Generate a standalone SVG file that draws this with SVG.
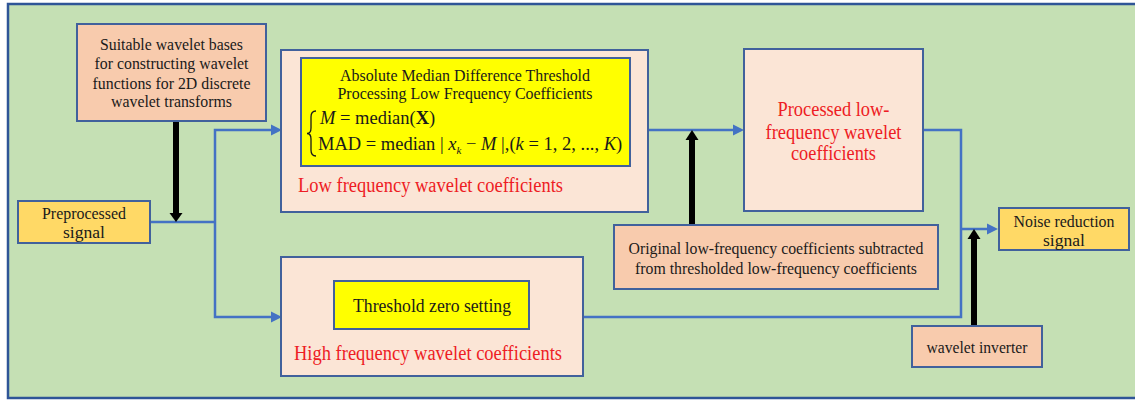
<svg xmlns="http://www.w3.org/2000/svg" width="1135" height="400" viewBox="0 0 1135 400">
  <style>
    text { font-family: "Liberation Serif", "Times New Roman", serif; fill: #1a1a1a; }
    .box { stroke: #41619c; stroke-width: 2; }
    .salmon { fill: #f8cbad; }
    .pale { fill: #fbe5d6; }
    .yellow { fill: #ffff00; }
    .gold { fill: #ffd966; }
    .t16 { font-size: 17.5px; text-anchor: middle; }
    .red { fill: #ee1c24; font-size: 20.5px; }
    .math { font-size: 18.5px; }
    .it { font-style: italic; }
    .wire { fill: none; stroke: #4472c4; stroke-width: 2.5; }
    .arrowhead { fill: #4472c4; }
    .push { fill: #000; }
  </style>

  <!-- background panel -->
  <rect x="8" y="4" width="1130" height="394" fill="#c5e0b4" stroke="#2f5597" stroke-width="2.5"/>

  <!-- connectors -->
  <g id="connectors">
    <!-- input split to low / high branches -->
    <polyline class="wire" points="150,222 215,222"/>
    <polyline class="wire" points="273,130 215,130 215,317 273,317"/>
    <polygon class="arrowhead" points="282,130 271,124.5 271,135.5"/>
    <polygon class="arrowhead" points="282,317 271,311.5 271,322.5"/>
    <!-- low branch to processed coefficients -->
    <polyline class="wire" points="648,130 735,130"/>
    <polygon class="arrowhead" points="744,130 733,124.5 733,135.5"/>
    <!-- merge to output -->
    <polyline class="wire" points="923,130 961,130 961,317 583,317"/>
    <polyline class="wire" points="961,229 989,229"/>
    <polygon class="arrowhead" points="998,229 987,223.5 987,234.5"/>
    <!-- thick black feeds -->
    <rect class="push" x="173" y="121" width="6" height="93"/>
    <polygon class="push" points="169.5,213 182.5,213 176,222"/>
    <rect class="push" x="689" y="139" width="6" height="86"/>
    <polygon class="push" points="685.5,140 698.5,140 692,130"/>
    <rect class="push" x="971" y="238" width="6" height="88"/>
    <polygon class="push" points="967.5,239 980.5,239 974,229"/>
  </g>

  <!-- wavelet basis selection -->
  <g id="wavelet-bases">
    <rect class="box salmon" x="77" y="24" width="189" height="97"/>
    <text class="t16" x="171.5" y="50" textLength="143" lengthAdjust="spacingAndGlyphs">Suitable wavelet bases</text>
    <text class="t16" x="171.5" y="69" textLength="154" lengthAdjust="spacingAndGlyphs">for constructing wavelet</text>
    <text class="t16" x="171.5" y="88.5" textLength="158" lengthAdjust="spacingAndGlyphs">functions for 2D discrete</text>
    <text class="t16" x="171.5" y="107" textLength="121" lengthAdjust="spacingAndGlyphs">wavelet transforms</text>
  </g>

  <!-- input signal -->
  <g id="preprocessed">
    <rect class="box gold" x="18" y="201" width="132" height="42"/>
    <text class="t16" x="84" y="219" textLength="84" lengthAdjust="spacingAndGlyphs">Preprocessed</text>
    <text class="t16" x="84" y="238" textLength="42" lengthAdjust="spacingAndGlyphs">signal</text>
  </g>

  <!-- low frequency branch -->
  <g id="low-frequency">
    <rect class="box pale" x="281" y="50" width="367" height="162"/>
    <rect class="box yellow" x="301" y="58" width="329" height="108"/>
    <text class="t16" x="465" y="81" textLength="250" lengthAdjust="spacingAndGlyphs">Absolute Median Difference Threshold</text>
    <text class="t16" x="465" y="99" textLength="255" lengthAdjust="spacingAndGlyphs">Processing Low Frequency Coefficients</text>
    <!-- curly brace -->
    <path d="M316,111 Q311,111 311,117 L311,128 Q311,133.5 307,133.5 Q311,133.5 311,139 L311,150 Q311,156 316,156" fill="none" stroke="#1a1a1a" stroke-width="1.3"/>
    <!-- M = median(X) -->
    <text class="math" x="320" y="124"><tspan class="it">M</tspan> = median(<tspan font-weight="bold">X</tspan>)</text>
    <!-- MAD = median |x_k - M|, (k = 1, 2, ..., K) -->
    <text class="math" x="318" y="150">MAD = median | <tspan class="it">x</tspan><tspan class="it" font-size="11" dy="4">k</tspan><tspan dy="-4"> − </tspan><tspan class="it">M</tspan> |,(<tspan class="it">k</tspan> = 1, 2, ..., <tspan class="it">K</tspan>)</text>
    <text class="red" x="298" y="192" textLength="265" lengthAdjust="spacingAndGlyphs">Low frequency wavelet coefficients</text>
  </g>

  <!-- high frequency branch -->
  <g id="high-frequency">
    <rect class="box pale" x="281" y="257" width="302" height="119"/>
    <rect class="box yellow" x="334" y="281" width="195" height="48"/>
    <text x="432" y="311.5" font-size="19.5" text-anchor="middle" textLength="158" lengthAdjust="spacingAndGlyphs">Threshold zero setting</text>
    <text class="red" x="294" y="360" textLength="268" lengthAdjust="spacingAndGlyphs">High frequency wavelet coefficients</text>
  </g>

  <!-- processed coefficients -->
  <g id="processed-low">
    <rect class="box pale" x="744" y="49" width="179" height="162"/>
    <text class="red" x="833.5" y="116" text-anchor="middle" textLength="112" lengthAdjust="spacingAndGlyphs">Processed low-</text>
    <text class="red" x="833.5" y="138.5" text-anchor="middle" textLength="136" lengthAdjust="spacingAndGlyphs">frequency wavelet</text>
    <text class="red" x="833.5" y="160" text-anchor="middle" textLength="85" lengthAdjust="spacingAndGlyphs">coefficients</text>
  </g>

  <!-- subtraction step -->
  <g id="subtraction">
    <rect class="box salmon" x="614" y="225" width="324" height="64"/>
    <text class="t16" x="776" y="254" textLength="295" lengthAdjust="spacingAndGlyphs">Original low-frequency coefficients subtracted</text>
    <text class="t16" x="776" y="274" textLength="282" lengthAdjust="spacingAndGlyphs">from thresholded low-frequency coefficients</text>
  </g>

  <!-- output -->
  <g id="noise-reduction">
    <rect class="box gold" x="999" y="208" width="130" height="42"/>
    <text class="t16" x="1064" y="227" textLength="101" lengthAdjust="spacingAndGlyphs">Noise reduction</text>
    <text class="t16" x="1064" y="245.5" textLength="42" lengthAdjust="spacingAndGlyphs">signal</text>
  </g>

  <g id="wavelet-inverter">
    <rect class="box salmon" x="912" y="326" width="130" height="41"/>
    <text class="t16" x="977" y="352.5" textLength="101" lengthAdjust="spacingAndGlyphs">wavelet inverter</text>
  </g>
</svg>
